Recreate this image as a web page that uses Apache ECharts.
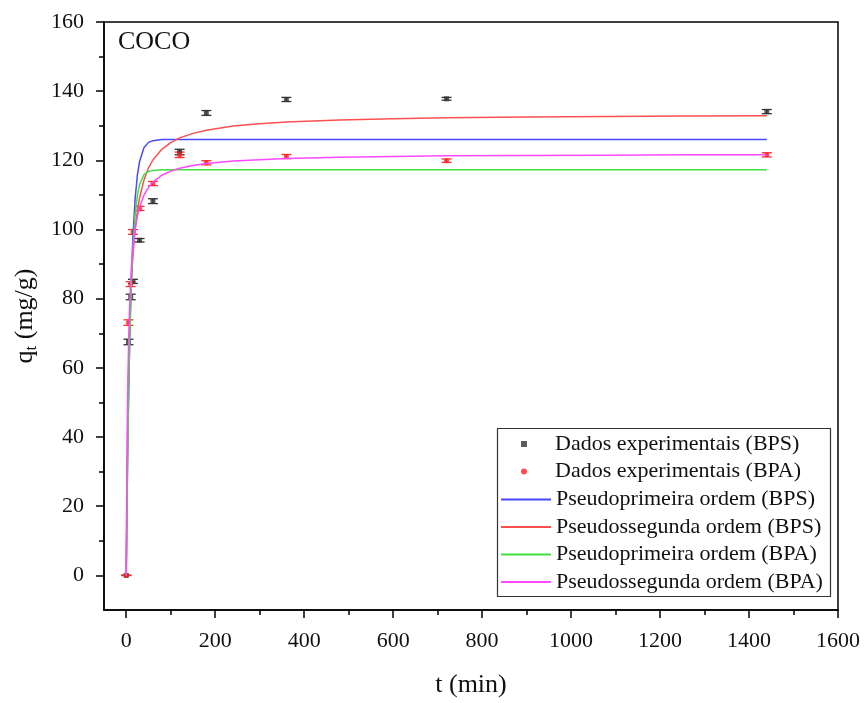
<!DOCTYPE html>
<html>
<head>
<meta charset="utf-8">
<script src="https://cdn.jsdelivr.net/npm/echarts@6/dist/echarts.min.js"></script>
<style>html,body{margin:0;padding:0;background:#fff}#c{width:866px;height:703px}</style>
</head>
<body>
<div id="c"></div>
<script>
// ---- data ----
const tData = [0, 5, 10, 15, 30, 60, 120, 180, 360, 720, 1440];
const qBPS = [0, 67.5, 80.5, 85.0, 96.9, 108.2, 122.4, 133.7, 137.6, 137.8, 134.1];
const errBPS = [0, 0.8, 0.8, 0.6, 0.5, 0.7, 0.8, 0.7, 0.6, 0.4, 0.6];
const qBPA = [0, 73.1, 84.2, 99.3, 106.1, 113.3, 121.6, 119.3, 121.1, 119.9, 121.6];
const errBPA = [0, 0.8, 0.7, 0.7, 0.6, 0.6, 0.8, 0.6, 0.6, 0.5, 0.6];

const tFit = [0, 1, 2, 3, 4, 5, 6, 8, 10, 12, 15, 20, 25, 30, 40, 50, 60, 80, 100, 120, 150, 180, 240, 300, 360, 480, 600, 720, 900, 1080, 1260, 1440];
const pfoBPS = [0, 12.0, 22.8, 32.7, 41.5, 49.6, 56.9, 69.4, 79.6, 88.0, 97.9, 108.9, 115.7, 119.7, 123.7, 125.2, 125.7, 126.0, 126.0, 126.0, 126.0, 126.0, 126.0, 126.0, 126.0, 126.0, 126.0, 126.0, 126.0, 126.0, 126.0, 126.0];
const psoBPS = [0, 17.4, 30.8, 41.4, 50.0, 57.2, 63.2, 72.8, 80.1, 85.8, 92.4, 100.1, 105.4, 109.2, 114.4, 117.8, 120.1, 123.2, 125.1, 126.5, 127.8, 128.7, 129.9, 130.6, 131.1, 131.7, 132.0, 132.3, 132.5, 132.7, 132.8, 132.9];
const pfoBPA = [0, 12.2, 23.2, 33.0, 41.8, 49.6, 56.7, 68.6, 78.3, 86.0, 94.8, 104.3, 109.8, 113.0, 115.9, 116.8, 117.1, 117.3, 117.3, 117.3, 117.3, 117.3, 117.3, 117.3, 117.3, 117.3, 117.3, 117.3, 117.3, 117.3, 117.3, 117.3];
const psoBPA = [0, 22.7, 38.2, 49.6, 58.2, 65.0, 70.5, 78.8, 84.8, 89.4, 94.4, 100.1, 103.8, 106.5, 110.0, 112.2, 113.7, 115.7, 116.9, 117.7, 118.5, 119.1, 119.8, 120.2, 120.5, 120.9, 121.1, 121.3, 121.4, 121.5, 121.6, 121.6];

const xTicks = [0, 200, 400, 600, 800, 1000, 1200, 1400, 1600];
const xMinorTicks = [100, 300, 500, 700, 900, 1100, 1300, 1500];
const yTicks = [0, 20, 40, 60, 80, 100, 120, 140, 160];
const yMinorTicks = [10, 30, 50, 70, 90, 110, 130, 150];

const names = ['Dados experimentais (BPS)', 'Dados experimentais (BPA)', 'Pseudoprimeira ordem (BPS)', 'Pseudossegunda ordem (BPS)', 'Pseudoprimeira ordem (BPA)', 'Pseudossegunda ordem (BPA)'];
const panelTitle = 'COCO';

// ---- build ----
const FONT = "'Liberation Serif', 'Times New Roman', serif";
const zip = (a, b) => a.map((v, i) => [v, b[i]]);
const errData = (q, e) => tData.map((t, i) => [t, q[i] - e[i], q[i] + e[i]]);

function errRender(color) {
  return function (params, api) {
    const x = api.value(0);
    const lo = api.coord([x, api.value(1)]);
    const hi = api.coord([x, api.value(2)]);
    const w = 5;
    const st = { stroke: color, lineWidth: 1.3 };
    return {
      type: 'group',
      children: [
        { type: 'line', shape: { x1: lo[0], y1: lo[1], x2: hi[0], y2: hi[1] }, style: st },
        { type: 'line', shape: { x1: lo[0] - w, y1: lo[1], x2: lo[0] + w, y2: lo[1] }, style: st },
        { type: 'line', shape: { x1: hi[0] - w, y1: hi[1], x2: hi[0] + w, y2: hi[1] }, style: st }
      ]
    };
  };
}

const axisLine = { show: true, onZero: false, lineStyle: { color: '#000', width: 1.5 } };
const chart = echarts.init(document.getElementById('c'), null, { renderer: 'canvas' });

const lineSeries = (name, data, color) => ({
  name, type: 'line', data: zip(tFit, data), symbol: 'none', showSymbol: false,
  lineStyle: { color, width: 1.5 }, itemStyle: { color }, z: 4, animation: false
});

const legendText = { fontFamily: FONT, fontSize: 22, color: '#111', lineHeight: 22, rich: { g: { width: 23 } } };

chart.setOption({
  animation: false,
  backgroundColor: '#fff',
  grid: { left: 104, right: 28, top: 22, bottom: 91, show: true, borderColor: '#000', borderWidth: 1.5, backgroundColor: 'transparent' },
  xAxis: [{
    type: 'value', min: -50, max: 1600, position: 'bottom',
    axisLine, splitLine: { show: false },
    axisTick: { show: true, inside: false, length: 8, lineStyle: { color: '#000', width: 1.5 }, customValues: xTicks },
    axisLabel: { customValues: xTicks, formatter: v => String(v), fontFamily: FONT, fontSize: 22, color: '#111', margin: 20 },
    name: 't (min)', nameLocation: 'middle', nameGap: 62,
    nameTextStyle: { fontFamily: FONT, fontSize: 26, color: '#111' }
  }, {
    type: 'value', min: -50, max: 1600, position: 'bottom',
    axisLine: { show: false, onZero: false }, splitLine: { show: false }, axisLabel: { show: false },
    axisTick: { show: true, inside: false, length: 5, lineStyle: { color: '#000', width: 1.5 }, customValues: xMinorTicks }
  }],
  yAxis: [{
    type: 'value', min: -10, max: 160, position: 'left',
    axisLine, splitLine: { show: false },
    axisTick: { show: true, inside: false, length: 8, lineStyle: { color: '#000', width: 1.5 }, customValues: yTicks },
    axisLabel: { customValues: yTicks, formatter: v => String(v), fontFamily: FONT, fontSize: 22, color: '#111', margin: 20 },
    name: '{q|q}{t|t}{n| (mg/g)}', nameLocation: 'middle', nameGap: 64,
    nameTextStyle: {
      fontFamily: FONT, fontSize: 26, color: '#111',
      rich: {
        q: { fontFamily: FONT, fontSize: 26, color: '#111', lineHeight: 30 },
        t: { fontFamily: FONT, fontSize: 17, color: '#111', lineHeight: 30, verticalAlign: 'bottom', padding: [12, 0, 0, 0] },
        n: { fontFamily: FONT, fontSize: 26, color: '#111', lineHeight: 30 }
      }
    }
  }, {
    type: 'value', min: -10, max: 160, position: 'left',
    axisLine: { show: false, onZero: false }, splitLine: { show: false }, axisLabel: { show: false },
    axisTick: { show: true, inside: false, length: 5, lineStyle: { color: '#000', width: 1.5 }, customValues: yMinorTicks }
  }],
  legend: [{
    data: [names[0], names[1]], orient: 'vertical', left: 521, top: 433, padding: 0,
    itemWidth: 6, itemHeight: 6, itemGap: 5.5, selectedMode: false,
    formatter: n => '{g|}' + n,
    textStyle: legendText
  }, {
    data: [names[2], names[3], names[4], names[5]], orient: 'vertical', left: 500, top: 488.5, padding: 0,
    itemWidth: 50, itemHeight: 14, itemGap: 5.5, selectedMode: false,
    itemStyle: { color: 'rgba(0,0,0,0)', borderColor: 'rgba(0,0,0,0)', borderWidth: 0, opacity: 0 },
    textStyle: { fontFamily: FONT, fontSize: 22, color: '#111', lineHeight: 22 }
  }],
  graphic: [
    { type: 'rect', shape: { x: 497.5, y: 428.5, width: 333, height: 168 }, style: { fill: 'transparent', stroke: '#333', lineWidth: 1.2 }, z: 1 },
    { type: 'text', left: 118, top: 29, style: { text: panelTitle, font: "26px 'Liberation Serif', serif", fill: '#111' } }
  ],
  series: [
    { type: 'custom', name: 'errBPS', renderItem: errRender('#333'), data: errData(qBPS, errBPS), encode: { x: 0, y: [1, 2] }, z: 1 },
    { type: 'custom', name: 'errBPA', renderItem: errRender('#ff3030'), data: errData(qBPA, errBPA), encode: { x: 0, y: [1, 2] }, z: 1 },
    { name: names[0], type: 'scatter', data: zip(tData, qBPS), symbol: 'rect', symbolSize: 5, itemStyle: { color: '#333' }, z: 2 },
    { name: names[1], type: 'scatter', data: zip(tData, qBPA), symbol: 'circle', symbolSize: 5, itemStyle: { color: '#ff2020' }, z: 3 },
    lineSeries(names[2], pfoBPS, '#4848ff'),
    lineSeries(names[3], psoBPS, '#ff5050'),
    lineSeries(names[4], pfoBPA, '#3ee03e'),
    lineSeries(names[5], psoBPA, '#ff48ff')
  ]
});
</script>
</body>
</html>
